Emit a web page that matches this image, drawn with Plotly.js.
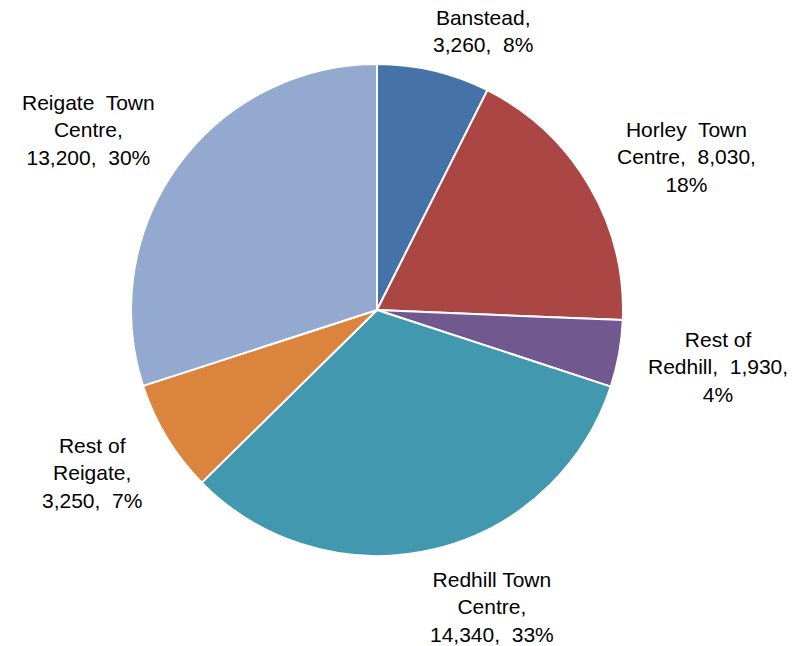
<!DOCTYPE html>
<html>
<head>
<meta charset="utf-8">
<script src="https://cdn.plot.ly/plotly-3.0.1.min.js"></script>
<style>html,body{margin:0;padding:0;background:#fff;}#chart{width:793px;height:646px;}</style>
</head>
<body>
<div id="chart"></div>
<script>
const categories = ["Banstead", "Horley Town Centre", "Rest of Redhill", "Redhill Town Centre", "Rest of Reigate", "Reigate Town Centre"];
const values = [3260, 8030, 1930, 14340, 3250, 13200];
const percentLabels = ["8%", "18%", "4%", "33%", "7%", "30%"];
const labelLines = [
  ["Banstead,", "3,260,  8%"],
  ["Horley  Town", "Centre,  8,030,", "18%"],
  ["Rest of", "Redhill,  1,930,", "4%"],
  ["Redhill Town", "Centre,", "14,340,  33%"],
  ["Rest of", "Reigate,", "3,250,  7%"],
  ["Reigate  Town", "Centre,", "13,200,  30%"]
];
const colors = ["#4572A7", "#AA4643", "#71588F", "#4198AF", "#DB843D", "#93A9CF"];
const labelPos = [[483, 31], [686, 157], [718, 367], [492, 607], [92, 473], [88, 130]];

const W = 793, H = 646;
const cx = 377, cy = 310, r = 246;

const trace = {
  type: "pie",
  labels: categories,
  values: values,
  sort: false,
  direction: "clockwise",
  rotation: 0,
  textinfo: "none",
  hoverinfo: "label+value",
  marker: { colors: colors, line: { color: "#ffffff", width: 2 } },
  domain: { x: [(cx - r) / W, (cx + r) / W], y: [(H - cy - r) / H, (H - cy + r) / H] },
  showlegend: false
};

const annotations = labelLines.map((lines, i) => ({
  text: lines.join("<br>"),
  xref: "paper", yref: "paper",
  x: labelPos[i][0] / W, y: 1 - labelPos[i][1] / H,
  xanchor: "center", yanchor: "middle",
  showarrow: false, align: "center",
  font: { family: "Liberation Sans, Arial, sans-serif", size: 21, color: "#000" }
}));

Plotly.newPlot("chart", [trace], {
  width: W, height: H,
  margin: { l: 0, r: 0, t: 0, b: 0 },
  paper_bgcolor: "#fff",
  annotations: annotations
}, { displayModeBar: false, staticPlot: true });
</script>
</body>
</html>
